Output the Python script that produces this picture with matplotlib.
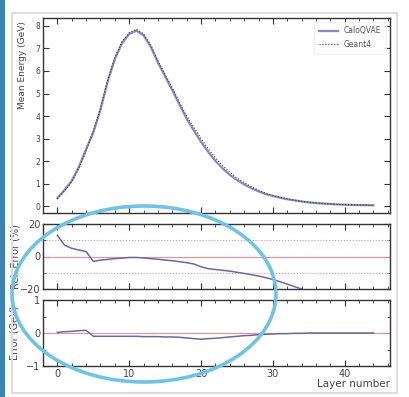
import numpy as np
import matplotlib
matplotlib.use("Agg")
import matplotlib.pyplot as plt
from matplotlib.patches import Ellipse, Rectangle
from matplotlib.ticker import MultipleLocator, NullFormatter

# Datos
capas = np.arange(45)
energia_geant4 = [0.33, 0.68, 1.08, 1.68, 2.45, 3.35, 4.35, 5.6, 6.6, 7.3,
                  7.7, 7.85, 7.65, 7.15, 6.45, 5.85, 5.25, 4.6, 4.0, 3.5,
                  3.0, 2.55, 2.15, 1.8, 1.5, 1.25, 1.05, 0.87, 0.71, 0.58,
                  0.48, 0.4, 0.33, 0.27, 0.22, 0.18, 0.15, 0.12, 0.1, 0.08,
                  0.07, 0.06, 0.05, 0.05, 0.04]
energia_calo = [0.36, 0.72, 1.13, 1.75, 2.53, 3.27, 4.28, 5.53, 6.53, 7.23,
                7.64, 7.79, 7.58, 7.07, 6.37, 5.76, 5.15, 4.5, 3.88, 3.36,
                2.85, 2.41, 2.01, 1.68, 1.39, 1.16, 0.97, 0.8, 0.66, 0.54,
                0.45, 0.38, 0.31, 0.26, 0.21, 0.17, 0.14, 0.12, 0.1, 0.08,
                0.07, 0.06, 0.05, 0.05, 0.04]
capas_rel = np.arange(35)
error_rel = [13, 7, 5, 4, 3, -3, -2.2, -1.8, -1.3, -1.0,
             -0.6, -0.6, -0.9, -1.3, -1.7, -2.2, -2.6, -3.2, -3.8, -4.6,
             -6.3, -7.5, -8.0, -8.5, -9.0, -9.7, -10.4, -11.2, -12.0, -13.0,
             -14.2, -15.5, -17.0, -18.5, -20.0]
error_abs = [0.02, 0.04, 0.05, 0.07, 0.08, -0.1, -0.1, -0.1, -0.1, -0.1,
             -0.1, -0.1, -0.11, -0.11, -0.11, -0.12, -0.12, -0.13, -0.15, -0.17,
             -0.19, -0.17, -0.16, -0.14, -0.12, -0.1, -0.08, -0.07, -0.05, -0.04,
             -0.03, -0.02, -0.02, -0.01, -0.01, 0, 0, 0, 0, 0,
             0, 0, 0, 0, 0]

COLOR_CALO = '#8a88c4'
COLOR_G4 = '#3a3a3a'
COLOR_ROJO = '#ee8c98'

W, H = 410, 397
fig = plt.figure(figsize=(W / 100, H / 100), dpi=100)
fig.patch.set_facecolor('white')


def caja(x0, y0, x1, y1):
    """Convierte píxeles (desde arriba-izquierda) a coordenadas de figura."""
    return [x0 / W, 1 - y1 / H, (x1 - x0) / W, (y1 - y0) / H]


ax1 = fig.add_axes(caja(43, 18, 390, 213))
ax2 = fig.add_axes(caja(43, 224, 390, 289))
ax3 = fig.add_axes(caja(43, 300, 390, 366))

# Panel superior: energía media
ax1.plot(capas, energia_calo, color=COLOR_CALO, lw=1.6, label='CaloQVAE')
ax1.plot(capas, energia_geant4, color=COLOR_G4, lw=0.8, ls=':', label='Geant4')
ax1.set_ylim(-0.3, 8.35)
ax1.yaxis.set_major_locator(MultipleLocator(1))
ax1.set_ylabel('Mean Energy (GeV)', fontsize=6.5, color='#444444')
ax1.yaxis.set_label_coords(-0.045, 0.76)
leg = ax1.legend(loc='upper right', fontsize=5.5, frameon=True, handlelength=2.5,
                 borderpad=0.6, labelspacing=0.6)
leg.get_frame().set_edgecolor('#eeeeee')
leg.get_frame().set_facecolor('white')
for t in leg.get_texts():
    t.set_color('#555555')

# Panel medio: error relativo
ax2.axhline(0, color=COLOR_ROJO, lw=0.8)
ax2.axhline(10, color=COLOR_ROJO, lw=0.8, ls=':')
ax2.axhline(-10, color=COLOR_ROJO, lw=0.8, ls=':')
ax2.plot(capas_rel, error_rel, color='#6a68a8', lw=1.1)
ax2.set_ylim(-20, 20)
ax2.yaxis.set_major_locator(MultipleLocator(20))
ax2.yaxis.set_minor_locator(MultipleLocator(10))
ax2.set_ylabel('Rel. Error (%)', fontsize=7, color='#444444')
ax2.yaxis.set_label_coords(-0.065, 0.5)

# Panel inferior: error absoluto
ax3.axhline(0, color=COLOR_ROJO, lw=0.8)
ax3.plot(capas, error_abs, color='#6a68a8', lw=1.1)
ax3.set_ylim(-1, 1)
ax3.yaxis.set_major_locator(MultipleLocator(1))
ax3.yaxis.set_minor_locator(MultipleLocator(0.5))
ax3.set_ylabel('Error (GeV)', fontsize=7, color='#444444')
ax3.yaxis.set_label_coords(-0.068, 0.5)
ax3.set_xlabel('Layer number', fontsize=7.5, color='#444444')
ax3.xaxis.set_label_coords(1.0, -0.2)
ax3.xaxis.label.set_horizontalalignment('right')

for ax, tam in [(ax1, 5.5), (ax2, 7), (ax3, 7)]:
    ax.set_xlim(-2, 46.3)
    ax.xaxis.set_major_locator(MultipleLocator(10))
    ax.xaxis.set_minor_locator(MultipleLocator(2))
    ax.tick_params(which='both', direction='in', top=True, right=True,
                   labelsize=tam, labelcolor='#444444', color='#333333', pad=2)
    ax.tick_params(which='major', length=4, width=0.8)
    ax.tick_params(which='minor', length=2, width=0.6)
    for s in ax.spines.values():
        s.set_color('#333333')
        s.set_linewidth(1.0)
for ax in (ax1, ax2):
    ax.xaxis.set_major_formatter(NullFormatter())

# Marco de la diapositiva
fig.patches.append(Rectangle((0, 0), 5 / W, 1, transform=fig.transFigure,
                             facecolor='#3d82b4', edgecolor='none'))
fig.patches.append(Rectangle((12 / W, 1 - 393 / H), 385 / W, 380 / H,
                             transform=fig.transFigure, facecolor='none',
                             edgecolor='#dddddd', lw=1.5))

# Elipse de anotación
fig.patches.append(Ellipse((144 / W, 1 - 294 / H), 264 / W, 176 / H,
                           transform=fig.transFigure, facecolor='none',
                           edgecolor='#6ec3e8', lw=2.6, zorder=10))

fig.savefig('out.png', dpi=100)
